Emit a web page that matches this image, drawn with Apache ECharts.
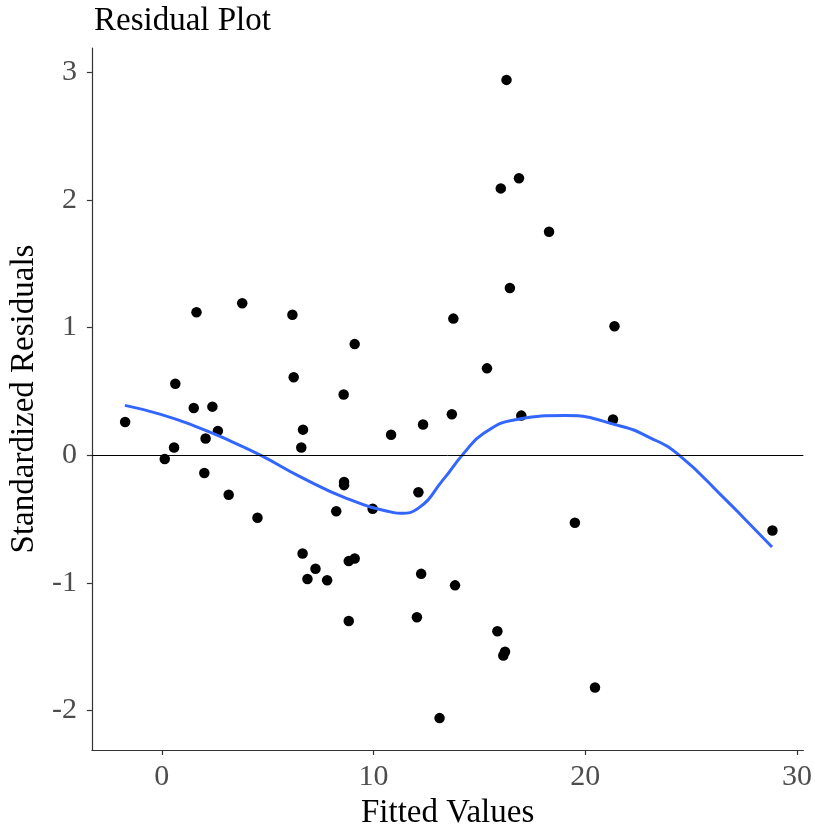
<!DOCTYPE html>
<html>
<head>
<meta charset="utf-8">
<script src="https://cdn.jsdelivr.net/npm/echarts@6/dist/echarts.min.js"></script>
<style>html,body{margin:0;padding:0;background:#fff}#c{width:815px;height:836px}</style>
</head>
<body>
<div id="c"></div>
<script>
var fittedValues = [-1.73,0.14,0.58,0.64,1.51,1.64,2.01,2.07,2.39,2.65,3.16,3.80,4.52,6.17,6.23,6.67,6.59,6.65,6.88,7.26,7.81,8.24,8.59,8.61,8.61,8.83,8.83,9.11,9.11,9.96,10.83,12.05,12.12,12.25,12.34,13.12,13.70,13.77,13.85,15.36,15.85,16.01,16.13,16.21,16.28,16.44,16.87,16.98,18.29,19.51,20.46,21.31,21.38,28.84];
var stdResiduals = [0.26,-0.03,0.06,0.56,0.37,1.12,-0.14,0.13,0.38,0.19,-0.31,1.19,-0.49,1.10,0.61,0.20,0.06,-0.77,-0.97,-0.89,-0.98,-0.44,0.475,-0.21,-0.235,-0.83,-1.30,-0.81,0.87,-0.42,0.16,-1.27,-0.29,-0.93,0.24,-2.06,0.32,1.07,-1.02,0.68,-1.38,2.09,-1.57,-1.54,2.94,1.31,2.17,0.31,1.75,-0.53,-1.82,0.28,1.01,-0.59];
var smoothX = [-1.74,-0.05,1.53,3.25,4.66,6.55,8.75,10.96,11.26,12.12,13.30,14.24,15.19,16.76,19.10,21.61,23.02,24.43,26.64,27.59,28.82];
var smoothY = [0.39,0.32,0.23,0.11,0.0,-0.17,-0.34,-0.45,-0.455,-0.415,-0.19,0.01,0.17,0.28,0.31,0.23,0.14,0.0,-0.35,-0.51,-0.72];
var xTicks = [0,10,20,30];
var yTicks = [-2,-1,0,1,2,3];

var pts = fittedValues.map(function(v,i){return [v, stdResiduals[i]];});
var curve = smoothX.map(function(v,i){return [v, smoothY[i]];});
var font = '"Liberation Serif","Times New Roman",serif';

var chart = echarts.init(document.getElementById('c'), null, {renderer:'canvas'});
chart.setOption({
  animation:false,
  backgroundColor:'#fff',
  title:{text:'Residual Plot', left:89, top:0, textStyle:{fontFamily:font, fontSize:33, fontWeight:'normal', color:'#000'}},
  grid:{left:91, right:11, top:48, bottom:86, containLabel:false},
  xAxis:{type:'value', min:-3.30, max:30.30,
    name:'Fitted Values', nameLocation:'middle', nameGap:46,
    nameTextStyle:{fontFamily:font, fontSize:33, color:'#000'},
    axisLine:{show:true, onZero:false, lineStyle:{color:'#333', width:1.2}},
    axisTick:{show:true, customValues:xTicks, length:5, lineStyle:{color:'#333', width:1.2}},
    axisLabel:{customValues:xTicks, margin:12, fontFamily:font, fontSize:30, color:'#4d4d4d'},
    splitLine:{show:false}},
  yAxis:{type:'value', min:-2.31, max:3.19,
    name:'Standardized Residuals', nameLocation:'middle', nameGap:42, nameRotate:90,
    nameTextStyle:{fontFamily:font, fontSize:33, color:'#000'},
    axisLine:{show:true, onZero:false, lineStyle:{color:'#333', width:1.2}},
    axisTick:{show:true, customValues:yTicks, length:5, lineStyle:{color:'#333', width:1.2}},
    axisLabel:{customValues:yTicks, margin:15, fontFamily:font, fontSize:30, color:'#4d4d4d'},
    splitLine:{show:false}},
  series:[
    {type:'scatter', data:pts, symbolSize:10.5, itemStyle:{color:'#000', opacity:1}, z:3,
     markLine:{silent:true, symbol:['none','none'], label:{show:false},
       lineStyle:{color:'#000', width:1, type:'solid'}, data:[{yAxis:0}]}},
    {type:'line', data:curve, smooth:true, showSymbol:false, symbol:'none',
     lineStyle:{color:'#3366FF', width:3}, z:4}
  ]
});
</script>
</body>
</html>
